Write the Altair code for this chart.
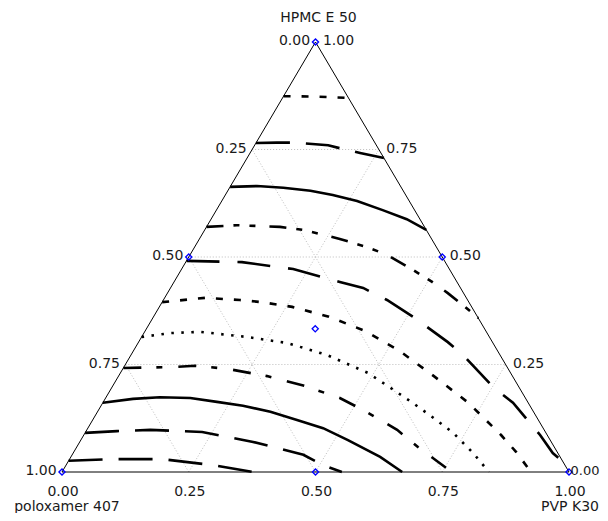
import altair as alt
import pandas as pd

# ---------------- data (mixture fractions: PVP K30, HPMC E 50; poloxamer = 1 - PVP - HPMC)
tick_vals = [0.0, 0.25, 0.5, 0.75, 1.0]
tick_text = ["0.00", "0.25", "0.50", "0.75", "1.00"]
grid_vals = [0.25, 0.5, 0.75]

design_pvp = [0.0, 0.0, 0.5, 0.0, 0.5, 1.0, 0.333]
design_hpmc = [1.0, 0.5, 0.5, 0.0, 0.0, 0.0, 0.333]

c1_pvp = [0.000, 0.063, 0.130]
c1_hpmc = [0.874, 0.873, 0.870]

c2_pvp = [0.000, 0.041, 0.073, 0.145, 0.179, 0.217, 0.270]
c2_hpmc = [0.765, 0.766, 0.766, 0.760, 0.751, 0.742, 0.730]

c3_pvp = [0.000, 0.052, 0.106, 0.163, 0.212, 0.267, 0.328, 0.386, 0.437]
c3_hpmc = [0.663, 0.665, 0.661, 0.654, 0.644, 0.630, 0.609, 0.588, 0.563]

c4_pvp = [0.000, 0.058, 0.145, 0.194, 0.277, 0.340, 0.389, 0.457, 0.509, 0.553, 0.597, 0.642]
c4_hpmc = [0.570, 0.574, 0.570, 0.563, 0.542, 0.523, 0.505, 0.470, 0.442, 0.416, 0.388, 0.358]

c5_pvp = [0.000, 0.111, 0.220, 0.327, 0.380, 0.441, 0.512, 0.610, 0.655, 0.751, 0.809, 0.900, 0.946, 0.976]
c5_hpmc = [0.491, 0.488, 0.472, 0.442, 0.428, 0.400, 0.361, 0.302, 0.272, 0.198, 0.161, 0.086, 0.044, 0.024]

c6_pvp = [0.000, 0.080, 0.151, 0.197, 0.262, 0.346, 0.434, 0.526, 0.622, 0.721, 0.823, 0.872, 0.925]
c6_hpmc = [0.395, 0.405, 0.400, 0.395, 0.384, 0.361, 0.328, 0.281, 0.223, 0.161, 0.086, 0.047, 0.000]

c7_pvp = [0.000, 0.051, 0.109, 0.208, 0.294, 0.387, 0.489, 0.546, 0.604, 0.663, 0.726, 0.789, 0.842]
c7_hpmc = [0.314, 0.323, 0.326, 0.314, 0.300, 0.272, 0.230, 0.198, 0.165, 0.130, 0.091, 0.044, 0.000]

c8_pvp = [0.000, 0.095, 0.139, 0.206, 0.293, 0.379, 0.462, 0.522, 0.612, 0.673, 0.769]
c8_hpmc = [0.242, 0.244, 0.247, 0.240, 0.223, 0.200, 0.172, 0.144, 0.098, 0.058, 0.000]

c9_pvp = [0.000, 0.055, 0.106, 0.167, 0.224, 0.280, 0.341, 0.403, 0.464, 0.527, 0.610, 0.671]
c9_hpmc = [0.161, 0.170, 0.174, 0.172, 0.163, 0.154, 0.140, 0.121, 0.102, 0.074, 0.035, 0.000]

c10_pvp = [0.000, 0.061, 0.125, 0.230, 0.342, 0.456, 0.507, 0.552]
c10_hpmc = [0.091, 0.095, 0.098, 0.093, 0.070, 0.040, 0.016, 0.000]

c11_pvp = [0.000, 0.084, 0.182, 0.290, 0.377]
c11_hpmc = [0.026, 0.030, 0.030, 0.016, 0.000]

contour_pvp = [c1_pvp, c2_pvp, c3_pvp, c4_pvp, c5_pvp, c6_pvp, c7_pvp, c8_pvp, c9_pvp, c10_pvp, c11_pvp]
contour_hpmc = [c1_hpmc, c2_hpmc, c3_hpmc, c4_hpmc, c5_hpmc, c6_hpmc, c7_hpmc, c8_hpmc, c9_hpmc, c10_hpmc, c11_hpmc]

# ---------------- styles
contour_dash = [
    [7, 11],
    [34, 16],
    None,
    [17, 10, 6, 10, 6, 14],
    [33, 18],
    [7, 11],
    [2.5, 7.5],
    [18, 15, 6, 16],
    None,
    [34, 16],
    [34, 16],
]
FONT = "DejaVu Sans"
FS = 14
TXT = "#1a1a1a"

W, H = 507, 430


def tx(p, h):
    return p + 0.5 * h


xs = alt.Scale(domain=[0, 1], nice=False, zero=False)
ys = alt.Scale(domain=[0, 1], nice=False, zero=False)
X = alt.X("x:Q", scale=xs, axis=None)
Y = alt.Y("y:Q", scale=ys, axis=None)

layers = []

# grid lines
g = []
for v in grid_vals:
    g.append(dict(x=tx(0, v), y=v, x2=tx(1 - v, v), y2=v))
    g.append(dict(x=tx(v, 0), y=0, x2=tx(v, 1 - v), y2=1 - v))
    g.append(dict(x=tx(1 - v, 0), y=0, x2=tx(0, 1 - v), y2=1 - v))
grid = alt.Chart(pd.DataFrame(g)).mark_rule(
    color="#bdbdbd", strokeWidth=1, strokeDash=[1, 2]
).encode(x=X, y=Y, x2="x2:Q", y2="y2:Q")
layers.append(grid)

# triangle outline
tri = pd.DataFrame(dict(x=[tx(0, 0), tx(1, 0), tx(0, 1), tx(0, 0)],
                        y=[0, 0, 1, 0], i=[0, 1, 2, 3]))
layers.append(alt.Chart(tri).mark_line(color="black", strokeWidth=1).encode(
    x=X, y=Y, order="i:Q"))

# contours
for pv, hp, dash in zip(contour_pvp, contour_hpmc, contour_dash):
    df = pd.DataFrame(dict(x=[tx(a, b) for a, b in zip(pv, hp)], y=hp, i=list(range(len(hp)))))
    kw = dict(color="black", strokeWidth=2.6, strokeCap="butt")
    if dash is not None:
        kw["strokeDash"] = dash
    layers.append(alt.Chart(df).mark_line(**kw).encode(x=X, y=Y, order="i:Q"))

# design points
dp = pd.DataFrame(dict(x=[tx(a, b) for a, b in zip(design_pvp, design_hpmc)], y=design_hpmc))
layers.append(alt.Chart(dp).mark_point(shape="diamond", size=38, filled=False,
                                      color="#0000ff", strokeWidth=1.3, opacity=1).encode(x=X, y=Y))

# tick labels
left = pd.DataFrame(dict(x=[tx(0, 1 - v) for v in tick_vals], y=[1 - v for v in tick_vals], t=tick_text))
right = pd.DataFrame(dict(x=[tx(1 - v, v) for v in tick_vals[1:]], y=tick_vals[1:], t=tick_text[1:]))
right0 = pd.DataFrame(dict(x=[tx(1.0, 0.0)], y=[0.0], t=[tick_text[0]]))
bottom = pd.DataFrame(dict(x=[tx(v, 0) for v in tick_vals], y=[0.0] * 5, t=tick_text))
tkw = dict(font=FONT, fontSize=FS, color=TXT, baseline="middle", align="center")
layers.append(alt.Chart(left).mark_text(dx=-21, dy=-1, **tkw).encode(x=X, y=Y, text="t:N"))
layers.append(alt.Chart(right).mark_text(dx=23, dy=-1, **tkw).encode(x=X, y=Y, text="t:N"))
layers.append(alt.Chart(right0).mark_text(dx=30.5, dy=-1, font=FONT, fontSize=13, color=TXT,
                                          baseline="middle", align="right").encode(x=X, y=Y, text="t:N"))
layers.append(alt.Chart(bottom).mark_text(dx=1, dy=20, **tkw).encode(x=X, y=Y, text="t:N"))

# component names
names = pd.DataFrame(dict(x=[tx(0, 1), tx(0, 0), tx(1, 0)], y=[1.0, 0.0, 0.0],
                          t=["HPMC E 50", "poloxamer 407", "PVP K30"]))
layers.append(alt.Chart(names.iloc[[0]]).mark_text(dx=3, dy=-24, **tkw).encode(x=X, y=Y, text="t:N"))
layers.append(alt.Chart(names.iloc[[1]]).mark_text(dx=5, dy=35, **tkw).encode(x=X, y=Y, text="t:N"))
layers.append(alt.Chart(names.iloc[[2]]).mark_text(dx=30, dy=35, font=FONT, fontSize=FS, color=TXT,
                                                   baseline="middle", align="right").encode(x=X, y=Y, text="t:N"))

chart = alt.layer(*layers).properties(
    width=W, height=H,
    autosize=alt.AutoSizeParams(type="none"),
    padding={"left": 54, "top": 34, "right": 31, "bottom": 41},
).configure_view(stroke=None)

chart.save("out.html", embed_options={"renderer": "svg", "actions": False})
